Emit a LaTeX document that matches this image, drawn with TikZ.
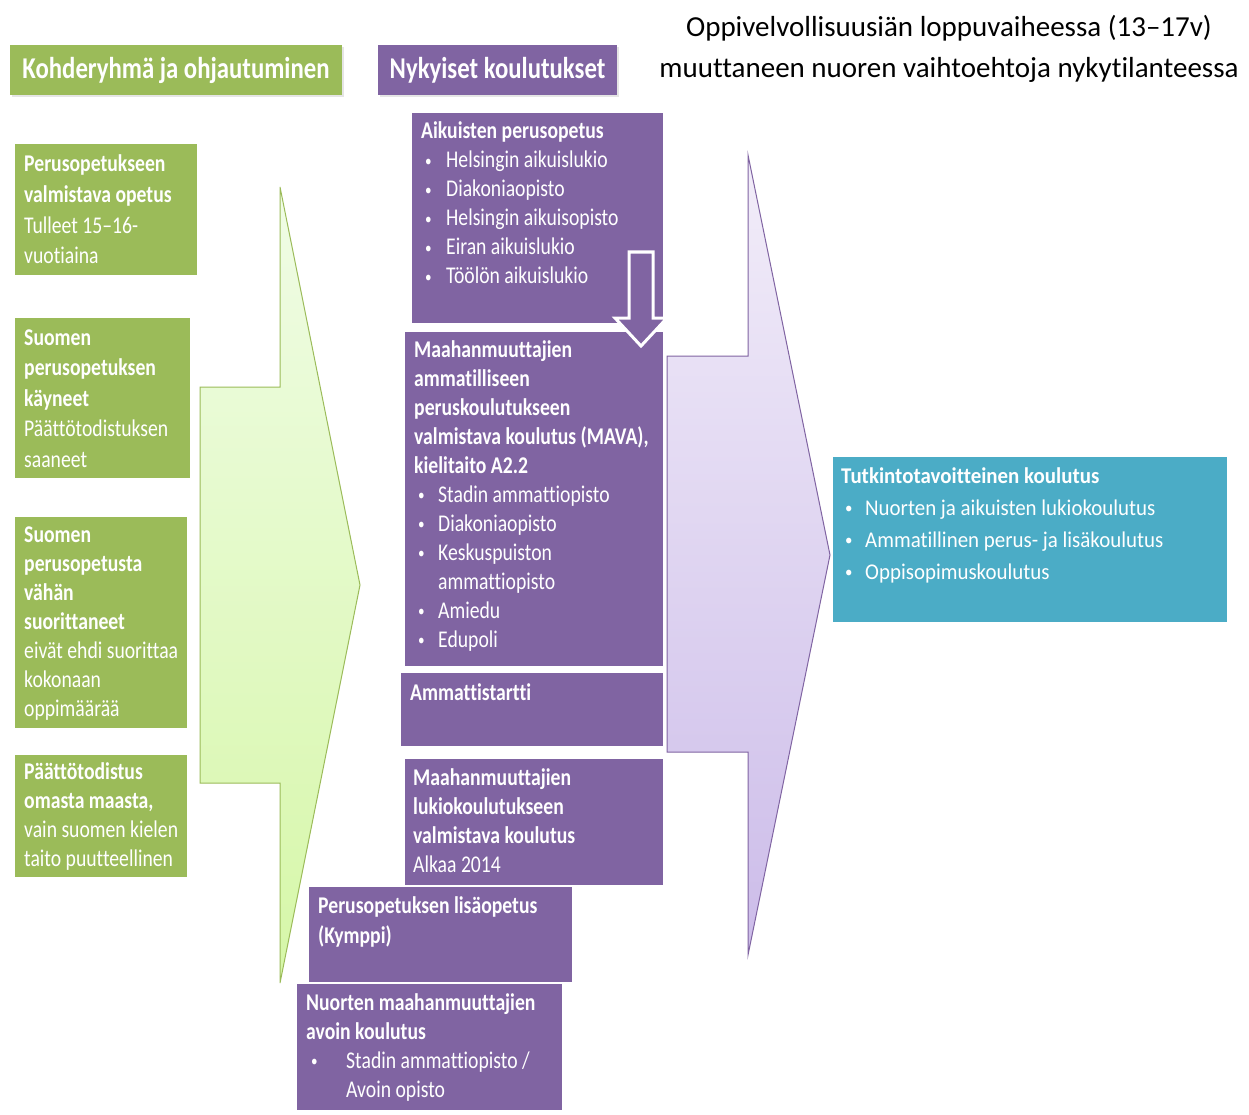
\documentclass[tikz,border=0pt]{standalone}
\usepackage{fontspec}
\setmainfont{Carlito}[Ligatures=NoCommon]
\newfontfamily\boxfont{Carlito}[FakeStretch=0.82, Ligatures=NoCommon]
\newfontfamily\tealfont{Carlito}[FakeStretch=0.93, Ligatures=NoCommon]
\usetikzlibrary{shadows}
\definecolor{kgreen}{HTML}{9BBB59}
\definecolor{kpurple}{HTML}{8064A2}
\definecolor{kteal}{HTML}{4BACC6}
\definecolor{garrowtop}{RGB}{240,252,230}
\definecolor{garrowbot}{RGB}{214,247,168}
\definecolor{parrowtop}{RGB}{242,237,249}
\definecolor{parrowbot}{RGB}{204,188,233}
\newcommand{\itm}[2]{\hspace*{#1}\makebox[#2][l]{\raisebox{1.5pt}{\fontsize{16}{16}\selectfont\textbullet}}}
\tikzstyle{kbox} = [rectangle, anchor=north west, inner sep=0pt, draw=white, line width=1.5pt,
drop shadow={shadow xshift=1.5pt, shadow yshift=-1.5pt, opacity=0.25}]
\tikzstyle{greenbox} = [kbox, fill=kgreen]
\tikzstyle{purplebox} = [kbox, fill=kpurple]
\tikzstyle{tealbox} = [kbox, fill=kteal]
\tikzstyle{header} = [rectangle, inner sep=0pt, text=white,
font=\boxfont\bfseries\fontsize{30.2}{36}\selectfont,
drop shadow={shadow xshift=2pt, shadow yshift=-2pt, opacity=0.2}]
\tikzstyle{boxtext} = [anchor=base west, inner sep=0pt, text=white, text width=270pt, align=flush left,
font=\boxfont\fontsize{24}{29}\selectfont]
\tikzstyle{greentext} = [boxtext, text width=200pt, font=\boxfont\fontsize{24}{30.6}\selectfont]
\tikzstyle{bigarrow} = [line width=1pt, shading angle=0]

\begin{document}
\begin{tikzpicture}[x=1pt, y=-1pt]
        \fill[white] (0,0) rectangle (1249,1115);
        \useasboundingbox (0,0) rectangle (1249,1115);
        \draw[bigarrow, draw=kgreen, top color=garrowtop, bottom color=garrowbot]
            (200,387) -- (280,387) -- (280,187) -- (360,585) -- (280,983) -- (280,783) -- (200,783) -- cycle;
        \draw[bigarrow, draw=kpurple, top color=parrowtop, bottom color=parrowbot]
            (667,356) -- (748,356) -- (748,155) -- (830,555) -- (748,955) -- (748,752) -- (667,752) -- cycle;
        \node (kohde) [header, fill=kgreen, minimum width=332pt, minimum height=50pt] at (176,70) {Kohderyhmä ja ohjautuminen};
        \node (nyky) [header, fill=kpurple, minimum width=239pt, minimum height=50pt] at (497.5,70) {Nykyiset koulutukset};
        \node (gr1) [greenbox, minimum width=184pt, minimum height=132pt] at (13,143) {};
        \node (gr1t) [greentext] at (24,172) {\bfseries Perusopetukseen\\valmistava opetus\\\mdseries Tulleet 15–16-\\vuotiaina};
        \node (gr2) [greenbox, minimum width=177pt, minimum height=162pt] at (13,316) {};
        \node (gr2t) [greentext] at (24,345) {\bfseries Suomen\\perusopetuksen\\käyneet\\\mdseries Päättötodistuksen\\saaneet};
        \node (gr3) [greenbox, minimum width=174pt, minimum height=213pt] at (13,515) {};
        \node (gr3t) [greentext, font=\boxfont\fontsize{24}{29}\selectfont] at (24,542) {\bfseries Suomen\\perusopetusta\\vähän\\suorittaneet\\\mdseries eivät ehdi suorittaa\\kokonaan\\oppimäärää};
        \node (gr4) [greenbox, minimum width=174pt, minimum height=124pt] at (13,753) {};
        \node (gr4t) [greentext, font=\boxfont\fontsize{24}{29.3}\selectfont] at (24,779) {\bfseries Päättötodistus\\omasta maasta,\\\mdseries vain suomen kielen\\taito puutteellinen};
        \node (aik) [purplebox, minimum width=253pt, minimum height=211pt] at (410,112) {};
        \node (aikt) [boxtext] at (421,139) {\bfseries Aikuisten perusopetus\\\mdseries
            \itm{4pt}{21pt}Helsingin aikuislukio\\
            \itm{4pt}{21pt}Diakoniaopisto\\
            \itm{4pt}{21pt}Helsingin aikuisopisto\\
            \itm{4pt}{21pt}Eiran aikuislukio\\
            \itm{4pt}{21pt}Töölön aikuislukio};
        \node (mava) [purplebox, minimum width=260pt, minimum height=336pt] at (403,330) {};
        \node (mavat) [boxtext] at (414,357) {\bfseries Maahanmuuttajien\\ammatilliseen\\peruskoulutukseen\\valmistava koulutus (MAVA),\\kielitaito A2.2\\\mdseries
            \itm{4pt}{20pt}Stadin ammattiopisto\\
            \itm{4pt}{20pt}Diakoniaopisto\\
            \itm{4pt}{20pt}Keskuspuiston\\
            \hspace*{24pt}ammattiopisto\\
            \itm{4pt}{20pt}Amiedu\\
            \itm{4pt}{20pt}Edupoli};
        \node (amm) [purplebox, minimum width=264pt, minimum height=75pt] at (399,671) {};
        \node (ammt) [boxtext] at (410,700) {\bfseries Ammattistartti};
        \draw[fill=kpurple, draw=white, line width=3pt, line join=miter]
            (629,252) -- (653,252) -- (653,318) -- (667,318) -- (641,346) -- (615,318) -- (629,318) -- cycle;
        \node (luk) [purplebox, minimum width=260pt, minimum height=128pt] at (403,757) {};
        \node (lukt) [boxtext] at (413,785) {\bfseries Maahanmuuttajien\\lukiokoulutukseen\\valmistava koulutus\\\mdseries Alkaa 2014};
        \node (nuo) [purplebox, minimum width=267pt, minimum height=128pt] at (295,982) {};
        \node (nuot) [boxtext] at (306,1010) {\bfseries Nuorten maahanmuuttajien\\avoin koulutus\\\mdseries
            \itm{5pt}{35pt}Stadin ammattiopisto /\\
            \hspace*{40pt}Avoin opisto};
        \node (kym) [purplebox, minimum width=265pt, minimum height=97pt] at (307,885) {};
        \node (kymt) [boxtext, font=\boxfont\fontsize{24}{30}\selectfont] at (318,913) {\bfseries Perusopetuksen lisäopetus\\(Kymppi)};
        \node (tut) [tealbox, minimum width=396pt, minimum height=167pt] at (831,455) {};
        \node (tutt) [boxtext, text width=380pt, font=\tealfont\fontsize{22.5}{32}\selectfont] at (841,483) {\bfseries Tutkintotavoitteinen koulutus\\\mdseries
            \itm{4pt}{20pt}Nuorten ja aikuisten lukiokoulutus\\
            \itm{4pt}{20pt}Ammatillinen perus- ja lisäkoulutus\\
            \itm{4pt}{20pt}Oppisopimuskoulutus};
        \node (otsikko) [anchor=base, inner sep=0pt, text width=620pt, align=flush center, font=\fontsize{29}{41}\selectfont] at (949,37) {Oppivelvollisuusiän loppuvaiheessa (13–17v)\\muuttaneen nuoren vaihtoehtoja nykytilanteessa};
    \end{tikzpicture}
\end{document}
